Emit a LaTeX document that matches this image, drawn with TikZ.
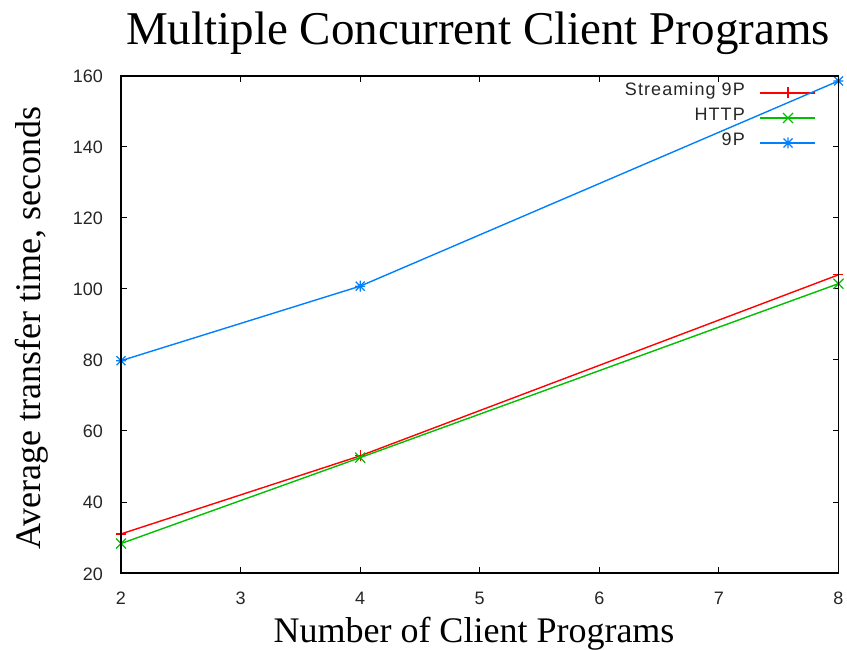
\documentclass[tikz,border=0pt]{standalone}
\usepackage{fontspec}
\setmainfont{Liberation Serif}
\setsansfont{Liberation Sans}
\newfontfamily\legendfont[LetterSpace=6]{Liberation Sans}

\definecolor{gpred}{RGB}{255,0,0}
\definecolor{gpgreen}{RGB}{0,192,0}
\definecolor{gpblue}{RGB}{0,128,255}

\tikzset{
  axisline/.style={black, line width=1.4pt},
  ticklabel/.style={inner sep=0pt, font=\sffamily\fontsize{18}{21}\selectfont, text=black!85},
  legendlabel/.style={inner sep=0pt, font=\legendfont\fontsize{18}{21}\selectfont, text=black!85},
  serieslabel/.style={inner sep=0pt, font=\rmfamily\fontsize{36}{42}\selectfont},
  curve/.style={line width=1.4pt},
  plusmark/.pic={\draw[line width=1.2pt] (-5pt,0) -- (5pt,0) (0,-5.5pt) -- (0,5.5pt);},
  crossmark/.pic={\draw[line width=1.2pt] (-5pt,-5pt) -- (5pt,5pt) (-5pt,5pt) -- (5pt,-5pt);},
  starmark/.pic={\draw[line width=1.2pt] (-5pt,0) -- (5pt,0) (0,-5.5pt) -- (0,5.5pt)
                  (-4.5pt,-4.5pt) -- (4.5pt,4.5pt) (-4.5pt,4.5pt) -- (4.5pt,-4.5pt);},
}

\begin{document}
\begin{tikzpicture}[x=1pt,y=1pt]
\useasboundingbox (0,0) rectangle (847,649);
\fill[white] (0,0) rectangle (847,649);

% title and axis labels
\node[serieslabel, font=\rmfamily\fontsize{47}{56}\selectfont, anchor=base] (title) at (478,604) {Multiple Concurrent Client Programs};
\node[serieslabel, anchor=base] (xlabel) at (474,7) {Number of Client Programs};
\node[serieslabel, anchor=base west, rotate=90] (ylabel) at (41,99) {Average transfer time, seconds};

% plot frame
\coordinate (ll) at (121,76);
\coordinate (ur) at (838.5,573);

% x ticks and labels
\foreach \v in {2,...,8} {
  \pgfmathsetmacro{\xx}{121+(\v-2)*119.58}
  \draw[axisline, line width=1pt] (\xx,76) -- ++(0,6);
  \draw[axisline, line width=1pt] (\xx,573) -- ++(0,-6);
  \node[ticklabel, anchor=base] (xt\v) at (\xx,45) {\v};
}
% y ticks and labels
\foreach \v in {20,40,...,160} {
  \pgfmathsetmacro{\yy}{76+(\v-20)*3.55}
  \draw[axisline, line width=1pt] (121,\yy) -- ++(6,0);
  \draw[axisline, line width=1pt] (838.5,\yy) -- ++(-6,0);
  \node[ticklabel, anchor=base east] (yt\v) at (103,\yy-7) {\v};
}

% data, in axis units
\begin{scope}[x=119.58pt, y=3.55pt, shift={(-118.16pt,5pt)}]
  \coordinate (s2) at (2,31);   \coordinate (s4) at (4,53);   \coordinate (s8) at (8,104);
  \coordinate (h2) at (2,28.3); \coordinate (h4) at (4,52.5); \coordinate (h8) at (8,101.5);
  \coordinate (p2) at (2,79.8); \coordinate (p4) at (4,100.8); \coordinate (p8) at (8,158.6);

  % Streaming 9P
  \draw[curve, gpred] (s2) -- (s4) -- (s8);
  \foreach \p in {s2,s4,s8} \pic[gpred] at (\p) {plusmark};
  % HTTP
  \draw[curve, gpgreen] (h2) -- (h4) -- (h8);
  \foreach \p in {h2,h4,h8} \pic[gpgreen] at (\p) {crossmark};
\end{scope}

% legend
\node[legendlabel, anchor=mid east] (k1) at (745,556) {Streaming 9P};
\node[legendlabel, anchor=mid east] (k2) at (745,531) {HTTP};
\node[legendlabel, anchor=mid east] (k3) at (745,506) {9P};
\coordinate (k1a) at (760,556); \coordinate (k1b) at (815,556);
\coordinate (k2a) at (760,531); \coordinate (k2b) at (815,531);
\coordinate (k3a) at (760,506); \coordinate (k3b) at (815,506);
\draw[curve, gpred] (k1a) -- (k1b);
\pic[gpred] at (788,556) {plusmark};
\draw[curve, gpgreen] (k2a) -- (k2b);
\pic[gpgreen] at (788,531) {crossmark};

% 9P
\begin{scope}[x=119.58pt, y=3.55pt, shift={(-118.16pt,5pt)}]
  \draw[curve, gpblue] (p2) -- (p4) -- (p8);
  \foreach \p in {p2,p4,p8} \pic[gpblue] at (\p) {starmark};
\end{scope}
\draw[curve, gpblue] (k3a) -- (k3b);
\pic[gpblue] at (788,506) {starmark};

\draw[axisline] (ll) rectangle (ur);
\end{tikzpicture}
\end{document}
